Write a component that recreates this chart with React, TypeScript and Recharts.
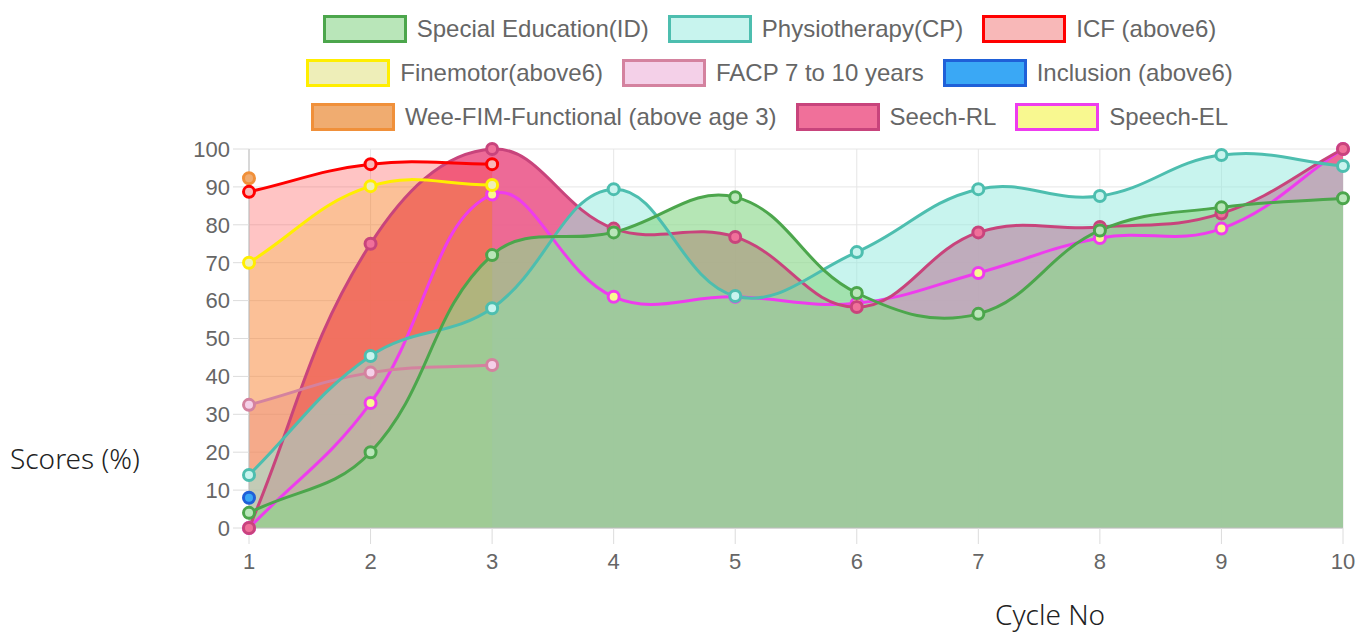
import { ComposedChart, Area, Line, XAxis, YAxis, CartesianGrid } from "recharts";

const cycles = [1, 2, 3, 4, 5, 6, 7, 8, 9, 10];
const yTicks = [0, 10, 20, 30, 40, 50, 60, 70, 80, 90, 100];

const specialEd = [4, 20, 72, 78, 87.3, 62, 56.5, 78.5, 84.6, 87];
const physio = [14, 45.4, 58, 89.4, 61.2, 72.8, 89.4, 87.6, 98.4, 95.5];
const icf = [88.7, 96, 96];
const finemotor = [70, 90.2, 90.5];
const facp = [32.5, 41, 43];
const inclusion = [8];
const weeFim = [92.3];
const seechRL = [0, 75, 100, 79, 76.8, 58.3, 78, 79.4, 83, 100];
const speechEL = [0, 33, 88, 61, 61, 59.3, 67.3, 76.5, 79, 100];

type Series = {
  key: string;
  name: string;
  values: number[];
  line: string;
  bg: string;
  fill?: string;
  fillOpacity?: number;
};

// order = chart.js legend order
const series: Series[] = [
  { key: "specialEd", name: "Special Education(ID)", values: specialEd, line: "#4ca64c", bg: "#b9e6b9", fill: "#8dd98d", fillOpacity: 0.65 },
  { key: "physio", name: "Physiotherapy(CP)", values: physio, line: "#4dbeaf", bg: "#c8f4ee", fill: "#96eadf", fillOpacity: 0.52 },
  { key: "icf", name: "ICF (above6)", values: icf, line: "#ff0000", bg: "#f8b8b8", fill: "#ff3c3c", fillOpacity: 0.3 },
  { key: "finemotor", name: "Finemotor(above6)", values: finemotor, line: "#ffee00", bg: "#eeeeb8", fill: "#e6e600", fillOpacity: 0.25 },
  { key: "facp", name: "FACP 7 to 10 years", values: facp, line: "#d4829f", bg: "#f4d0e8", fill: "#dc78b0", fillOpacity: 0.3 },
  { key: "inclusion", name: "Inclusion (above6)", values: inclusion, line: "#1f60d8", bg: "#3aa8f5" },
  { key: "weeFim", name: "Wee-FIM-Functional (above age 3)", values: weeFim, line: "#f0903a", bg: "#f0ac70" },
  { key: "seechRL", name: "Seech-RL", values: seechRL, line: "#c8447c", bg: "#f0709a", fill: "#eb5a8c", fillOpacity: 0.9 },
  { key: "speechEL", name: "Speech-EL", values: speechEL, line: "#ee3cee", bg: "#f8f890", fill: "#f0f000", fillOpacity: 0.12 },
];

const legendRows = [
  ["specialEd", "physio", "icf"],
  ["finemotor", "facp", "inclusion"],
  ["weeFim", "seechRL", "speechEL"],
];

const data = cycles.map((cycle, i) => {
  const row: Record<string, number | null> = { cycle };
  series.forEach((s) => {
    row[s.key] = s.values[i] ?? null;
  });
  return row;
});

// chart.js v2 style spline (tension 0.4) as a d3 curve factory
const TENSION = 0.4;
function chartJsSpline(context: any) {
  let pts: number[][] = [];
  let line = NaN;
  return {
    areaStart() {
      line = 0;
    },
    areaEnd() {
      line = NaN;
    },
    lineStart() {
      pts = [];
    },
    lineEnd() {
      const n = pts.length;
      if (n > 0) {
        if (line) context.lineTo(pts[0][0], pts[0][1]);
        else context.moveTo(pts[0][0], pts[0][1]);
        if (n === 2) {
          context.lineTo(pts[1][0], pts[1][1]);
        } else if (n > 2) {
          const cps = pts.map((p, i) => {
            const prev = pts[i - 1] || p;
            const next = pts[i + 1] || p;
            const d01 = Math.hypot(p[0] - prev[0], p[1] - prev[1]);
            const d12 = Math.hypot(next[0] - p[0], next[1] - p[1]);
            let s01 = d01 / (d01 + d12);
            let s12 = d12 / (d01 + d12);
            if (!isFinite(s01)) s01 = 0;
            if (!isFinite(s12)) s12 = 0;
            const fa = TENSION * s01;
            const fb = TENSION * s12;
            return {
              px: p[0] - fa * (next[0] - prev[0]),
              py: p[1] - fa * (next[1] - prev[1]),
              nx: p[0] + fb * (next[0] - prev[0]),
              ny: p[1] + fb * (next[1] - prev[1]),
            };
          });
          for (let i = 1; i < n; i++) {
            context.bezierCurveTo(cps[i - 1].nx, cps[i - 1].ny, cps[i].px, cps[i].py, pts[i][0], pts[i][1]);
          }
        }
      }
      if (line || (line !== 0 && n === 1)) context.closePath();
      line = 1 - line;
    },
    point(x: number, y: number) {
      pts.push([+x, +y]);
    },
  };
}

const byKey = (k: string) => series.find((s) => s.key === k)!;

function ChartLegend() {
  return (
    <div style={{ position: "absolute", left: 180, top: 15, width: 1179 }}>
      {legendRows.map((row, ri) => (
        <div
          key={ri}
          style={{ display: "flex", justifyContent: "center", height: 28, marginBottom: ri < 2 ? 16 : 0 }}
        >
          {row.map((k, i) => {
            const s = byKey(k);
            return (
              <div key={k} style={{ display: "flex", alignItems: "center", marginLeft: i ? 19 : 0 }}>
                <div
                  style={{
                    width: 84,
                    height: 28,
                    boxSizing: "border-box",
                    border: `3px solid ${s.line}`,
                    background: s.bg,
                  }}
                />
                <span
                  style={{
                    marginLeft: 10,
                    fontFamily: "'Liberation Sans', Arial, sans-serif",
                    fontSize: 24,
                    color: "#666",
                    whiteSpace: "nowrap",
                  }}
                >
                  {s.name}
                </span>
              </div>
            );
          })}
        </div>
      ))}
    </div>
  );
}

const tickStyle = { fontFamily: "'Liberation Sans', Arial, sans-serif", fontSize: 22, fill: "#666" };
const titleStyle = {
  position: "absolute" as const,
  fontFamily: "'Noto Sans', sans-serif",
  fontWeight: 300,
  fontSize: 28,
  lineHeight: "36px",
  color: "#222",
  whiteSpace: "nowrap" as const,
};

export default function App() {
  const fillOrder = [...series].reverse().filter((s) => s.fill);
  const lineOrder = [...series].reverse();
  return (
    <div style={{ position: "absolute", left: 0, top: 0, width: 1359, height: 633, background: "#fff" }}>
      <ChartLegend />
      <div style={{ ...titleStyle, left: 10, top: 440 }}>Scores (%)</div>
      <div style={{ ...titleStyle, left: 995, top: 596 }}>Cycle No</div>
      <div style={{ position: "absolute", left: 0, top: 0 }}>
        <ComposedChart
          width={1359}
          height={633}
          data={data}
          margin={{ top: 149, right: 16, left: 189, bottom: 45 }}
        >
          <CartesianGrid stroke="#e6e6e6" strokeWidth={1} />
          <XAxis
            type="number"
            dataKey="cycle"
            domain={[1, 10]}
            ticks={cycles}
            height={60}
            tick={tickStyle}
            tickSize={16}
            tickMargin={9}
            axisLine={{ stroke: "#bdbdbd" }}
            tickLine={{ stroke: "#dcdcdc" }}
          />
          <YAxis
            domain={[0, 100]}
            ticks={yTicks}
            width={60}
            tick={tickStyle}
            tickSize={16}
            tickMargin={3}
            axisLine={{ stroke: "#bdbdbd" }}
            tickLine={{ stroke: "#dcdcdc" }}
          />
          {fillOrder.map((s) => (
            <Area
              key={`a-${s.key}`}
              dataKey={s.key}
              type={chartJsSpline as any}
              stroke="none"
              fill={s.fill}
              fillOpacity={s.fillOpacity}
              dot={false}
              activeDot={false}
              isAnimationActive={false}
            />
          ))}
          {lineOrder.map((s) => (
            <Line
              key={`l-${s.key}`}
              dataKey={s.key}
              type={chartJsSpline as any}
              stroke={s.line}
              strokeWidth={3}
              dot={{ r: 5.5, strokeWidth: 3, fill: s.bg, stroke: s.line }}
              activeDot={false}
              isAnimationActive={false}
            />
          ))}
        </ComposedChart>
      </div>
    </div>
  );
}
